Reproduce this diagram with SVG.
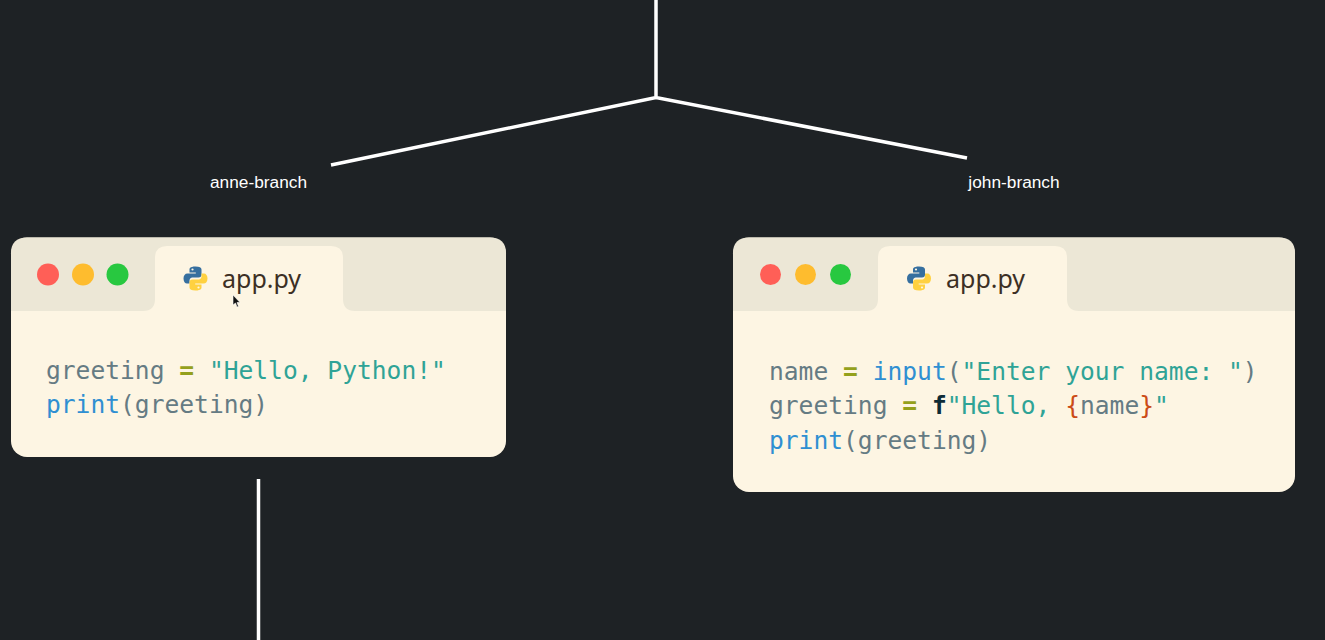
<svg xmlns="http://www.w3.org/2000/svg" width="1325" height="640" viewBox="0 0 1325 640">
<style>
.l{fill:none;stroke:#fff;stroke-width:3.5}
.b{font:17.3px "Liberation Sans",Arial,sans-serif;fill:#fff}
.f{font:25px "Noto Sans",sans-serif;fill:#3c2f24}
.c{font:24.6px "DejaVu Sans Mono","Liberation Mono",monospace;fill:#657b83}
.g{fill:#2fa396}.o{fill:#94a01c;font-weight:bold}.k{fill:#2f8fd2}.r{fill:#cb4b16}.d{fill:#0d2b36;font-weight:bold}
</style>
<defs>
<g id="py"><path d="M0-12C-6-12-6-9.500-6-9V-6H.3V-5H-8C-10.500-5-12-3-12 0C-12 3-10.500 5-8.500 5H-6V2C-6-.5-4-1-2-1H3C5-1 6-2 6-4V-9C6-11 4-12 0-12Z" fill="#366f9f"/><circle cx="-3" cy="-9" r="1.100" fill="#fdf6e3"/><path d="M0 12C6 12 6 9.500 6 9V6H-.3V5H8C10.500 5 12 3 12 0C12-3 10.500-5 8.500-5H6V-2C6 .5 4 1 2 1H-3C-5 1-6 2-6 4V9C-6 11-4 12 0 12Z" fill="#ffd140"/><circle cx="3" cy="9" r="1.100" fill="#fdf6e3"/></g>
</defs>
<rect width="1325" height="640" fill="#1e2225"/>
<g id="connectors">
<path class="l" d="M656 0V97.500M331 165L656 97.500L967 158M258.500 479V640"/>
</g>
<g id="anne-label"><text class="b" x="258.500" y="188" text-anchor="middle">anne-branch</text></g>
<g id="john-label"><text class="b" x="1014" y="188" text-anchor="middle">john-branch</text></g>
<g id="anne-window">
<rect x="11" y="237.500" width="495" height="219.500" rx="16" fill="#fdf5e3"/>
<path d="M27 237.500H490Q506 237.500 506 253.500V311H11V253.500Q11 237.500 27 237.500Z" fill="#ece7d6"/>
<path d="M143 311Q155 311 155 299V258Q155 246 167 246H331Q343 246 343 258V299Q343 311 355 311V312H143Z" fill="#fdf5e3"/>
<circle cx="48" cy="274.500" r="11" fill="#ff5f57"/><circle cx="83" cy="274.500" r="11" fill="#febc2e"/><circle cx="117.500" cy="274.500" r="11" fill="#28c840"/>
<use href="#py" x="195.500" y="278.500"/>
<text class="f" x="222" y="288">app.py</text>
<text class="c" x="46" y="379">greeting <tspan class="o">=</tspan> <tspan class="g">"Hello, Python!"</tspan></text>
<text class="c" x="46" y="413"><tspan class="k">print</tspan>(greeting)</text>
</g>
<g id="john-window">
<rect x="733" y="237.500" width="562" height="254.500" rx="16" fill="#fdf5e3"/>
<path d="M749 237.500H1279Q1295 237.500 1295 253.500V311H733V253.500Q733 237.500 749 237.500Z" fill="#ece7d6"/>
<path d="M866 311Q878 311 878 299V258Q878 246 890 246H1055Q1067 246 1067 258V299Q1067 311 1079 311V312H866Z" fill="#fdf5e3"/>
<circle cx="770.500" cy="274.500" r="10.500" fill="#ff5f57"/><circle cx="805.500" cy="274.500" r="10.500" fill="#febc2e"/><circle cx="840.500" cy="274.500" r="10.500" fill="#28c840"/>
<use href="#py" x="919" y="278.500"/>
<text class="f" x="946" y="288">app.py</text>
<text class="c" x="769" y="380">name <tspan class="o">=</tspan> <tspan class="k">input</tspan>(<tspan class="g">"Enter your name: "</tspan>)</text>
<text class="c" x="769" y="414">greeting <tspan class="o">=</tspan> <tspan class="d">f</tspan><tspan class="g">"Hello, </tspan><tspan class="r">{</tspan>name<tspan class="r">}</tspan><tspan class="g">"</tspan></text>
<text class="c" x="769" y="449"><tspan class="k">print</tspan>(greeting)</text>
</g>
<path id="cursor" d="M233 295V305L235.500 303L237 307L238.500 306.500L237 302.500H240Z" fill="#111" stroke="#fff" stroke-width=".6"/>
</svg>
